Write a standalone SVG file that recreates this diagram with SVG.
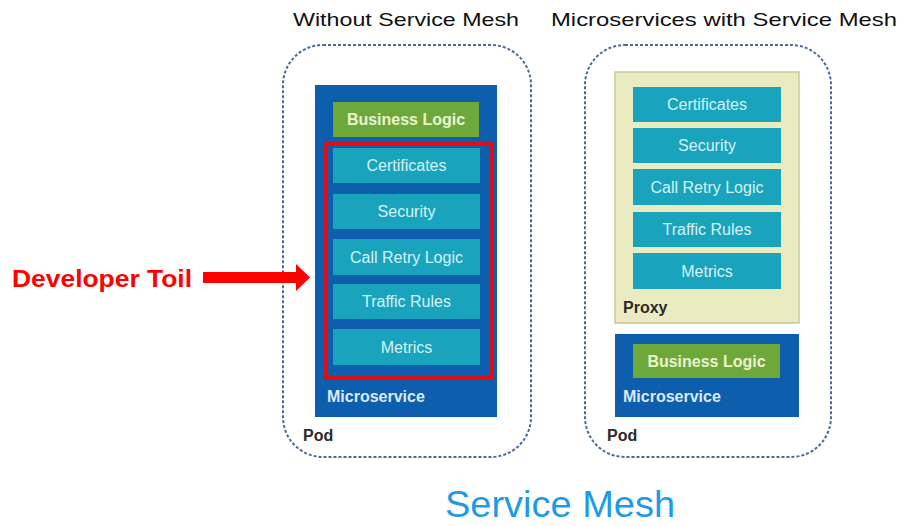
<svg xmlns="http://www.w3.org/2000/svg" width="901" height="526" viewBox="0 0 901 526">
<defs>
<style>
.t{font-family:"Liberation Sans",Arial,sans-serif}
.pod{fill:none;stroke:#4a6a9a;stroke-width:2;stroke-dasharray:3 2}
.ms{fill:#0d5fad}
.px{fill:#ebebc2;stroke:#c9c99a;stroke-width:1.5}
.bl{fill:#6fa83a}
.tl{fill:#1aa3bd}
.bt{font-family:"Liberation Sans",Arial,sans-serif;font-size:16px;font-weight:bold;fill:#e9f5cf;text-anchor:middle}
.tt{font-family:"Liberation Sans",Arial,sans-serif;font-size:16px;fill:#d4f4f6;text-anchor:middle}
.ml{font-family:"Liberation Sans",Arial,sans-serif;font-size:16px;font-weight:bold;fill:#dce9f7}
.pl{font-family:"Liberation Sans",Arial,sans-serif;font-size:16px;font-weight:bold;fill:#2b2b2b}
.hd{font-family:"Liberation Sans",Arial,sans-serif;font-size:19px;fill:#111}
</style>
</defs>
<rect width="901" height="526" fill="#ffffff"/>

<text class="hd" x="293" y="26" textLength="226" lengthAdjust="spacingAndGlyphs">Without Service Mesh</text>
<text class="hd" x="551" y="26" textLength="346" lengthAdjust="spacingAndGlyphs">Microservices with Service Mesh</text>

<g id="pod-left">
<rect class="pod" x="283" y="45" width="248" height="412" rx="40"/>
<text class="pl" x="303" y="441">Pod</text>
</g>
<g id="microservice-left">
<rect class="ms" x="315" y="85" width="182" height="332"/>
<text class="ml" x="327" y="402">Microservice</text>
</g>
<g id="business-logic-left">
<rect class="bl" x="333" y="102" width="146" height="35"/>
<text class="bt" x="406" y="125">Business Logic</text>
</g>
<g id="certificates-left">
<rect class="tl" x="333" y="148" width="147" height="35"/>
<text class="tt" x="406.5" y="171">Certificates</text>
</g>
<g id="security-left">
<rect class="tl" x="333" y="194" width="147" height="35"/>
<text class="tt" x="406.5" y="217">Security</text>
</g>
<g id="retry-left">
<rect class="tl" x="333" y="239" width="147" height="36"/>
<text class="tt" x="406.5" y="263">Call Retry Logic</text>
</g>
<g id="traffic-left">
<rect class="tl" x="333" y="284" width="147" height="35"/>
<text class="tt" x="406.5" y="307">Traffic Rules</text>
</g>
<g id="metrics-left">
<rect class="tl" x="333" y="329" width="147" height="36"/>
<text class="tt" x="406.5" y="353">Metrics</text>
</g>
<g id="toil-box">
<rect x="326" y="144" width="166" height="234" fill="none" stroke="#ff0000" stroke-width="3.5"/>
</g>

<g id="pod-right">
<rect class="pod" x="585" y="45" width="246" height="412" rx="40"/>
<text class="pl" x="607" y="441">Pod</text>
</g>
<g id="proxy">
<rect class="px" x="615" y="72" width="184" height="251"/>
<text class="pl" x="623" y="313">Proxy</text>
</g>
<g id="certificates-right">
<rect class="tl" x="633" y="87" width="148" height="35"/>
<text class="tt" x="707" y="110">Certificates</text>
</g>
<g id="security-right">
<rect class="tl" x="633" y="128" width="148" height="35"/>
<text class="tt" x="707" y="151">Security</text>
</g>
<g id="retry-right">
<rect class="tl" x="633" y="169" width="148" height="36"/>
<text class="tt" x="707" y="193">Call Retry Logic</text>
</g>
<g id="traffic-right">
<rect class="tl" x="633" y="212" width="148" height="35"/>
<text class="tt" x="707" y="235">Traffic Rules</text>
</g>
<g id="metrics-right">
<rect class="tl" x="633" y="253" width="148" height="36"/>
<text class="tt" x="707" y="277">Metrics</text>
</g>
<g id="microservice-right">
<rect class="ms" x="615" y="334" width="184" height="83"/>
<text class="ml" x="623" y="402">Microservice</text>
</g>
<g id="business-logic-right">
<rect class="bl" x="633" y="344" width="147" height="34"/>
<text class="bt" x="706.5" y="367">Business Logic</text>
</g>

<g id="developer-toil">
<text class="t" x="12" y="287" font-size="23" font-weight="bold" fill="#ff0000" textLength="180" lengthAdjust="spacingAndGlyphs">Developer Toil</text>
</g>
<g id="connectors">
<path d="M203 272 H296 V264 L310 277.5 L296 291 V283 H203 Z" fill="#ff0000"/>
</g>

<text class="t" x="560" y="517" font-size="36" fill="#1e9ae6" text-anchor="middle" textLength="230" lengthAdjust="spacingAndGlyphs">Service Mesh</text>
</svg>
